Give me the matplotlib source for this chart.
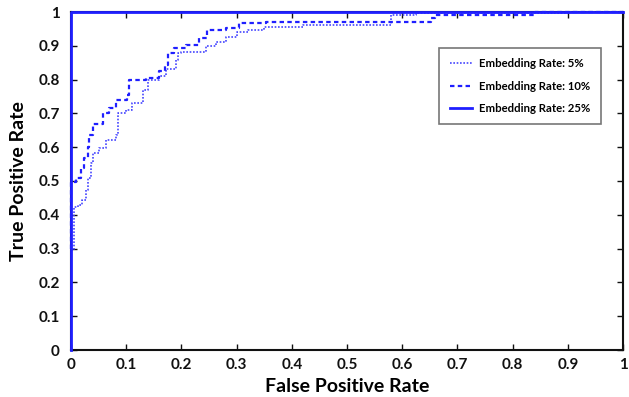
import matplotlib
matplotlib.use("Agg")
import matplotlib.pyplot as plt

plt.rcParams['font.family'] = ['Lato', 'DejaVu Sans']

# ---- data ----
ticks = [0, 0.1, 0.2, 0.3, 0.4, 0.5, 0.6, 0.7, 0.8, 0.9, 1.0]
tick_labels = ["0", "0.1", "0.2", "0.3", "0.4", "0.5", "0.6", "0.7", "0.8", "0.9", "1"]

fpr_5 = [0, 0.005, 0.013, 0.02, 0.027, 0.03, 0.036, 0.04, 0.05, 0.063, 0.081, 0.085,
         0.10, 0.11, 0.13, 0.14, 0.16, 0.172, 0.19, 0.193, 0.2, 0.245, 0.262, 0.28,
         0.30, 0.32, 0.35, 0.42, 0.58, 0.625, 0.9, 1.0]
tpr_5 = [0.296, 0.423, 0.43, 0.444, 0.473, 0.51, 0.553, 0.583, 0.598, 0.62, 0.636, 0.70,
         0.71, 0.73, 0.77, 0.80, 0.81, 0.83, 0.858, 0.88, 0.882, 0.90, 0.91, 0.925,
         0.94, 0.947, 0.955, 0.962, 0.99, 0.997, 1.0, 1.0]

fpr_10 = [0, 0, 0.009, 0.018, 0.023, 0.03, 0.032, 0.04, 0.058, 0.068, 0.081, 0.102,
          0.105, 0.136, 0.16, 0.17, 0.175, 0.187, 0.209, 0.232, 0.247, 0.28, 0.305,
          0.353, 0.652, 0.66, 0.84, 1.0]
tpr_10 = [0.30, 0.497, 0.509, 0.538, 0.568, 0.60, 0.636, 0.67, 0.70, 0.716, 0.74, 0.754,
          0.798, 0.804, 0.824, 0.842, 0.878, 0.893, 0.902, 0.923, 0.946, 0.952, 0.967,
          0.970, 0.982, 0.99, 1.0, 1.0]

fpr_25 = [0, 0, 1.0]
tpr_25 = [0, 1.0, 1.0]

labels = ["Embedding Rate: 5%", "Embedding Rate: 10%", "Embedding Rate: 25%"]

# ---- figure ----
fig = plt.figure(figsize=(6.29, 3.97), dpi=100)
ax = fig.add_axes([71/629, 1 - 350/397, (623-71)/629, (350-12)/397])

blue = '#1f1fff'
ax.plot(fpr_5, tpr_5, drawstyle='steps-post', color='#4545ff', linestyle=(0, (1, 1)),
        linewidth=1.2, label=labels[0], clip_on=False, zorder=3)
ax.plot(fpr_10, tpr_10, drawstyle='steps-post', color=blue, linestyle=(0, (2, 1.5)),
        linewidth=1.6, label=labels[1], clip_on=False, zorder=3)
ax.plot(fpr_25, tpr_25, color=blue, linestyle='-', linewidth=2,
        label=labels[2], clip_on=False, zorder=4)

ax.set_xlim(0, 1)
ax.set_ylim(0, 1)
ax.set_xticks(ticks)
ax.set_xticklabels(tick_labels)
ax.set_yticks(ticks)
ax.set_yticklabels(tick_labels)
ax.tick_params(direction='in', top=True, right=True, length=4, width=1,
               labelsize=11, colors='#111111')
ax.tick_params(axis='x', pad=6)
ax.tick_params(axis='y', pad=8)
for lab in ax.get_xticklabels() + ax.get_yticklabels():
    lab.set_fontweight('bold')
for s in ax.spines.values():
    s.set_linewidth(1.5)
    s.set_color('#111111')

ax.set_xlabel("False Positive Rate", fontsize=14, fontweight='bold', labelpad=4)
ax.set_ylabel("True Positive Rate", fontsize=14, fontweight='bold', labelpad=8)

leg = ax.legend(loc='upper right', bbox_to_anchor=(0.96, 0.893), fontsize=8.2,
                frameon=True, fancybox=False, edgecolor='#555555', handlelength=2.0,
                handletextpad=0.6, borderpad=0.9, labelspacing=1.0, borderaxespad=0)
leg.get_frame().set_linewidth(1.2)
for t in leg.get_texts():
    t.set_fontweight('bold')

fig.savefig("out.png", dpi=100)
